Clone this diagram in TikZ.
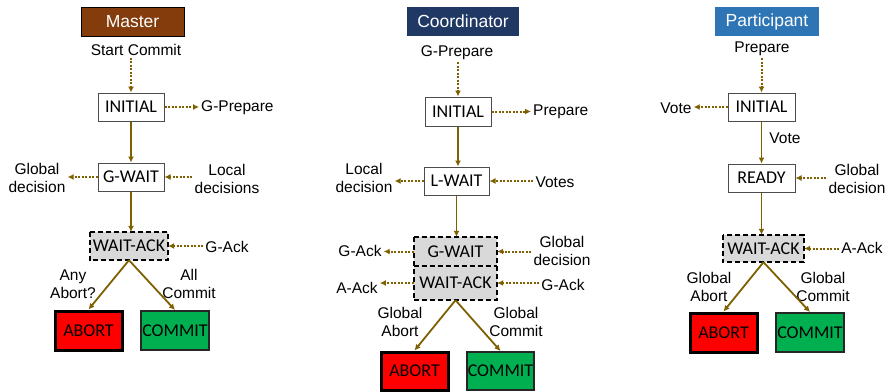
\documentclass[tikz,border=0pt]{standalone}
\usepackage{fontspec}
\setmainfont{Liberation Sans}
\newfontfamily\carl{Carlito}
\usetikzlibrary{arrows.meta}
\definecolor{arr}{RGB}{127,96,0}
\definecolor{mbrown}{RGB}{132,60,12}
\definecolor{cnavy}{RGB}{32,56,100}
\definecolor{pblue}{RGB}{46,117,182}
\definecolor{lgray}{RGB}{217,217,217}
\definecolor{gfill}{RGB}{0,176,80}
\begin{document}
\begin{tikzpicture}[x=1pt,y=-1pt,
  lbl/.style={font=\fontsize{15.5}{18}\selectfont, inner sep=2pt, align=center, text=black},
  st/.style={draw=black!70, line width=1pt, fill=white, font=\carl\fontsize{18}{20}\selectfont, inner sep=0pt},
  wbox/.style={fill=lgray, font=\carl\fontsize{18}{20}\selectfont, inner sep=0pt},
  dbox/.style={draw=black, line width=1.6pt, dash pattern=on 5pt off 3pt},
  abox/.style={draw=black, line width=3pt, fill=red, font=\carl\fontsize{18}{20}\selectfont, inner sep=0pt},
  cbox/.style={draw=black!85, line width=2pt, fill=gfill, font=\carl\fontsize{18}{20}\selectfont, inner sep=0pt},
  ttl/.style={text=white, font=\fontsize{17.5}{20}\selectfont, inner sep=0pt},
  flow/.style={draw=arr, line width=1.8pt, -{Latex[length=6pt,width=6pt]}},
  msg/.style={flow, line width=2pt, dash pattern=on 2pt off 1.5pt}]
\useasboundingbox (0,0) rectangle (890,391);

% ---------------- Master ----------------
\node[ttl, fill=mbrown, draw=black, line width=0.8pt, minimum width=103pt, minimum height=29pt] (mT) at (132.5,21.5) {Master};
\node[lbl] (mSC) at (136,50) {Start Commit};
\node[st, minimum width=66pt, minimum height=28pt] (mIni) at (131,107) {INITIAL};
\node[lbl, anchor=west] (mGP) at (199,108) {G-Prepare};
\node[st, minimum width=66pt, minimum height=28pt] (mGW) at (131,177) {G-WAIT};
\node[lbl] (mGD) at (37,178) {Global\\decision};
\node[lbl] (mLD) at (227,179) {Local\\decisions};
\node[wbox, minimum width=78pt, minimum height=28pt] (mWA) at (129,246) {WAIT-ACK};
\draw[dbox] (mWA.north west) rectangle (mWA.south east);
\node[lbl] (mGA) at (227,247) {G-Ack};
\node[abox, minimum width=67pt, minimum height=39pt] (mAb) at (88.5,330.5) {ABORT};
\node[cbox, minimum width=68pt, minimum height=39pt] (mCo) at (175,330.5) {COMMIT};
\node[lbl] (mAA) at (73,284) {Any\\Abort?};
\node[lbl] (mAC) at (189,284) {All\\Commit};

\draw[msg] (mSC.south -| mIni.north) -- (mIni.north);
\draw[msg] (mIni.east) -- (mIni.east -| mGP.west);
\draw[flow] (mIni.south) -- (mGW.north);
\draw[msg] (mGW.west) -- (mGW.west -| mGD.east);
\draw[msg] (mLD.west |- mGW.east) -- (mGW.east);
\draw[flow] (mGW.south) -- (mGW.south |- mWA.north);
\draw[msg] (mGA.west |- mWA.east) -- (mWA.east);
\draw[flow] (mWA.south) -- (mAb.north);
\draw[flow] (mWA.south) -- (mCo.north);

% ---------------- Coordinator ----------------
\node[ttl, fill=cnavy, minimum width=112pt, minimum height=29pt] (cT) at (463,21.5) {Coordinator};
\node[lbl] (cGP) at (457,53) {G-Prepare};
\node[st, minimum width=66pt, minimum height=29pt] (cIni) at (458,111.5) {INITIAL};
\node[lbl, anchor=west] (cPr) at (531,112) {Prepare};
\node[st, minimum width=65pt, minimum height=28pt] (cLW) at (456.5,181) {L-WAIT};
\node[lbl] (cLD) at (364,178) {Local\\decision};
\node[lbl] (cVo) at (555,182) {Votes};
\node[wbox, minimum width=83pt, minimum height=29pt] (cGW) at (455.5,251.5) {G-WAIT};
\node[wbox, minimum width=83pt, minimum height=34pt] (cWA) at (455.5,283) {WAIT-ACK};
\draw[dbox] (cGW.north west) rectangle (cWA.south east);
\draw[dbox] (cGW.south west) -- (cGW.south east);
\node[lbl] (cGA) at (360,251) {G-Ack};
\node[lbl] (cAA) at (357,288) {A-Ack};
\node[lbl] (cGD) at (562,251) {Global\\decision};
\node[lbl] (cGA2) at (563,285) {G-Ack};
\node[abox, minimum width=67pt, minimum height=38pt] (cAb) at (414.5,371) {ABORT};
\node[cbox, minimum width=67pt, minimum height=38pt] (cCo) at (500.5,371) {COMMIT};
\node[lbl] (cLA) at (400,322) {Global\\Abort};
\node[lbl] (cLC) at (516,322) {Global\\Commit};

\draw[msg] (cGP.south -| cIni.north) -- (cIni.north);
\draw[msg] (cIni.east) -- (cIni.east -| cPr.west);
\draw[flow] (cIni.south) -- (cIni.south |- cLW.north);
\draw[msg] (cLW.west) -- (cLW.west -| cLD.east);
\draw[msg] (cVo.west |- cLW.east) -- (cLW.east);
\draw[flow] (cLW.south) -- (cLW.south |- cGW.north);
\draw[msg] (cGW.west) -- (cGW.west -| cGA.east);
\draw[msg] (cWA.west) -- (cWA.west -| cAA.east);
\draw[msg] (cGD.west |- cGW.east) -- (cGW.east);
\draw[msg] (cGA2.west |- cWA.east) -- (cWA.east);
\draw[flow] (cWA.south) -- (cAb.north);
\draw[flow] (cWA.south) -- (cCo.north);

% ---------------- Participant ----------------
\node[ttl, fill=pblue, minimum width=104pt, minimum height=29pt] (pT) at (767,21.5) {Participant};
\node[lbl] (pPr) at (762,49) {Prepare};
\node[st, minimum width=67pt, minimum height=28pt] (pIni) at (761.5,107) {INITIAL};
\node[lbl] (pVo) at (676,108) {Vote};
\node[st, minimum width=67pt, minimum height=28pt] (pRd) at (761.5,178) {READY};
\node[lbl] (pVl) at (785,138) {Vote};
\node[lbl] (pGD) at (857,179) {Global\\decision};
\node[wbox, minimum width=81pt, minimum height=27pt] (pWA) at (763.5,248.5) {WAIT-ACK};
\draw[dbox] (pWA.north west) rectangle (pWA.south east);
\node[lbl] (pAA) at (862,248) {A-Ack};
\node[abox, minimum width=67pt, minimum height=39pt] (pAb) at (723.5,332.5) {ABORT};
\node[cbox, minimum width=68pt, minimum height=39pt] (pCo) at (810,332.5) {COMMIT};
\node[lbl] (pLA) at (709,287) {Global\\Abort};
\node[lbl] (pLC) at (823,287) {Global\\Commit};

\draw[msg] (pPr.south -| pIni.north) -- (pIni.north);
\draw[msg] (pIni.west) -- (pIni.west -| pVo.east);
\draw[flow] (pIni.south) -- (pRd.north);
\draw[msg] (pGD.west |- pRd.east) -- (pRd.east);
\draw[flow] (pRd.south) -- (pRd.south |- pWA.north);
\draw[msg] (pAA.west |- pWA.east) -- (pWA.east);
\draw[flow] (pWA.south) -- (pAb.north);
\draw[flow] (pWA.south) -- (pCo.north);
\end{tikzpicture}
\end{document}
